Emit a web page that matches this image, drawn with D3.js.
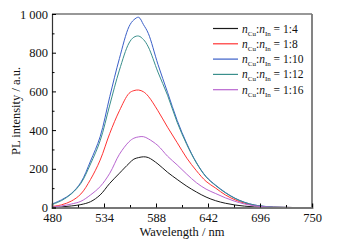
<!DOCTYPE html>
<html><head><meta charset="utf-8">
<script src="https://cdn.jsdelivr.net/npm/d3@7"></script>
<style>body{margin:0;background:#fff}svg{display:block}</style>
</head><body>
<script>
const wavelengths = [480,490,500,510,520,530,540,550,560,565,570,575,580,590,600,610,620,630,640,650,660,670,680,690,700,710,720,730,740,750];
const ratio1_4  = [1,3,8,15,30,65,125,177,228,250,258,262,258,225,182,145,110,80,54,35,22,13,7,3,1,0,0,0,0,0];
const ratio1_8  = [5,14,33,70,145,245,383,500,590,604,607,598,575,500,415,335,255,190,135,100,65,40,22,11,5,2,1,0,0,0];
const ratio1_10 = [18,40,72,130,240,366,573,770,935,970,983,945,900,740,595,450,330,232,160,115,78,48,27,13,6,2,1,0,0,0];
const ratio1_12 = [15,36,70,125,225,345,530,710,850,880,886,868,830,700,580,440,325,230,158,113,76,47,26,13,6,2,1,0,0,0];
const ratio1_16 = [3,8,18,32,65,108,177,275,340,358,365,366,355,320,265,220,172,128,95,72,50,32,18,9,4,1,0,0,0,0];
const seriesNames = ["1:4","1:8","1:10","1:12","1:16"];
const seriesValues = [ratio1_4, ratio1_8, ratio1_10, ratio1_12, ratio1_16];
const seriesColors = ["#1a1a1a","#ff3333","#3a5fc8","#3a8f8c","#b865d0"];
const xTicks = [480,534,588,642,696,750];
const yTicks = [0,200,400,600,800,1000];
const yTickLabels = ["0","200","400","600","800","1 000"];

const W=337,H=247;
const m={l:52,r:25,t:14,b:40};
const svg=d3.select("body").append("svg").attr("width",W).attr("height",H);
const x=d3.scaleLinear().domain([480,750]).range([m.l,W-m.r]);
const y=d3.scaleLinear().domain([0,1000]).range([H-m.b+0.5,m.t]);
const font="'Liberation Serif','Times New Roman',serif";

// frame
svg.append("line").attr("x1",x(480)).attr("x2",x(750)).attr("y1",y(1000)).attr("y2",y(1000)).attr("stroke","#333").attr("stroke-width",1.2);
svg.append("line").attr("x1",x(750)).attr("x2",x(750)).attr("y1",y(1000)).attr("y2",y(0)).attr("stroke","#777").attr("stroke-width",1.8);

// curves
const line=d3.line().x((d,i)=>x(wavelengths[i])).y(d=>y(d)).curve(d3.curveCatmullRom.alpha(0.5));
const g=svg.append("g");
seriesValues.forEach((vals,k)=>{
  g.append("path").datum(vals).attr("d",line).attr("fill","none").attr("stroke",seriesColors[k]).attr("stroke-width",1);
});

// x axis
const xMinor=d3.range(480,751,27);
const xa=svg.append("g").attr("transform",`translate(0,${y(0)})`)
  .call(d3.axisBottom(x).tickValues(xTicks).tickSize(-4).tickPadding(6).tickFormat(d3.format("d")));
xa.select(".domain").attr("stroke","#777").attr("stroke-width",1.8);
xa.selectAll("text").attr("font-family",font).attr("font-size",12.5).attr("fill","#111");
svg.append("g").attr("transform",`translate(0,${y(0)})`)
  .call(d3.axisBottom(x).tickValues(xMinor.filter(v=>!xTicks.includes(v))).tickSize(-2.5).tickFormat(""))
  .select(".domain").remove();

// y axis
const ya=svg.append("g").attr("transform",`translate(${x(480)},0)`)
  .call(d3.axisLeft(y).tickValues(yTicks).tickSize(-4).tickPadding(4).tickFormat((d,i)=>yTickLabels[i]));
ya.select(".domain").attr("stroke","#333").attr("stroke-width",1.2);
ya.selectAll("text").attr("font-family",font).attr("font-size",12.5).attr("fill","#111");
svg.append("g").attr("transform",`translate(${x(480)},0)`)
  .call(d3.axisLeft(y).tickValues(d3.range(100,1000,200)).tickSize(-2.5).tickFormat(""))
  .select(".domain").remove();

// axis titles
svg.append("text").attr("x",182).attr("y",236).attr("text-anchor","middle").attr("font-family",font).attr("font-size",12.5).attr("fill","#111").text("Wavelength / nm");
svg.append("text").attr("transform","translate(20,111) rotate(-90)").attr("text-anchor","middle").attr("font-family",font).attr("font-size",12.5).attr("fill","#111").text("PL intensity / a.u.");

// legend
const lg=svg.append("g");
seriesNames.forEach((n,k)=>{
  const yy=28.5+k*15.3;
  lg.append("line").attr("x1",213).attr("x2",238).attr("y1",yy).attr("y2",yy).attr("stroke",seriesColors[k]).attr("stroke-width",1.2);
  const t=lg.append("text").attr("x",242).attr("y",yy+4).attr("font-family",font).attr("font-size",11.5).attr("fill","#111");
  t.append("tspan").attr("font-style","italic").text("n");
  t.append("tspan").attr("font-size",7).attr("dy",3).text("Cu");
  t.append("tspan").attr("dy",-3).text(":");
  t.append("tspan").attr("font-style","italic").text("n");
  t.append("tspan").attr("font-size",7).attr("dy",3).text("In");
  t.append("tspan").attr("dy",-3).text(" = "+n);
});
</script>
</body></html>
